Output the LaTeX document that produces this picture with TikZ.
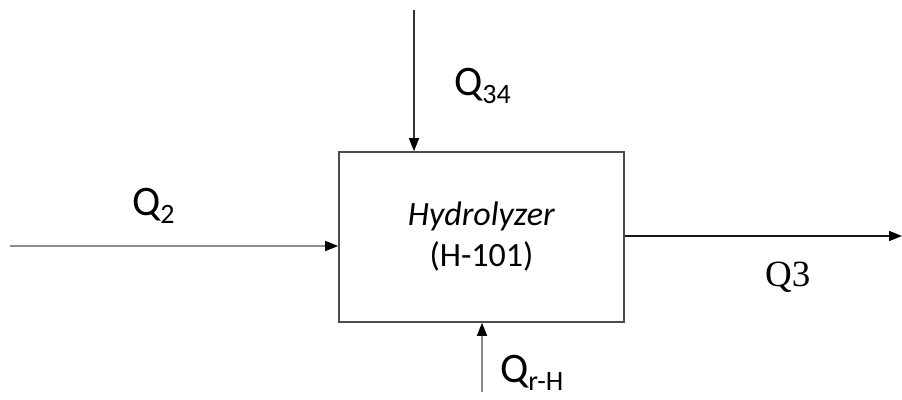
\documentclass[tikz,border=0pt]{standalone}
\usepackage{fontspec}
\setmainfont{Carlito}
\newfontfamily\timesfont{Liberation Serif}
\usetikzlibrary{arrows.meta, positioning}

\newcommand{\lowidx}[1]{\raisebox{-0.2em}{\fontsize{28}{28}\selectfont #1}}

\begin{document}
\begin{tikzpicture}[x=1pt, y=-1pt,
    flow/.style={line width=1.6pt, -{Triangle[length=13pt, width=10pt, color=black]}},
    lbl/.style={font=\fontsize{42}{44}\selectfont, inner sep=0pt}]
          \useasboundingbox (0,0) rectangle (902,399);

          % unit
          \node[draw=black!70, line width=1.6pt, minimum width=285pt, minimum height=170pt,
                align=center, font=\fontsize{34}{41}\selectfont] (hyd) at (481.5,237)
                {\textit{Hydrolyzer}\\(H-101)};

          % free ends of the streams
          \coordinate (top) at (414,10);
          \coordinate (left) at (10,246);
          \coordinate (right) at (902,236);
          \coordinate (bot) at (482,392);

          \draw[flow, draw=black!80] (top) -- (top |- hyd.north);
          \draw[flow, draw=black!45] (left) -- (left -| hyd.west);
          \draw[flow, draw=black!90] (right -| hyd.east) -- (right);
          \draw[flow, draw=black!45] (bot) -- (bot |- hyd.south);

          % stream labels
          \node[lbl, anchor=west] (q34) at (454,86) {Q\lowidx{34}};
          \node[lbl, anchor=west] (q2) at (132,206) {Q\lowidx{2}};
          \node[lbl, anchor=west, font=\timesfont\fontsize{37}{40}\selectfont] (q3) at (765,277) {Q3};
          \node[lbl, anchor=west] (qrh) at (500,373) {Q\lowidx{r-H}};
        \end{tikzpicture}
\end{document}
